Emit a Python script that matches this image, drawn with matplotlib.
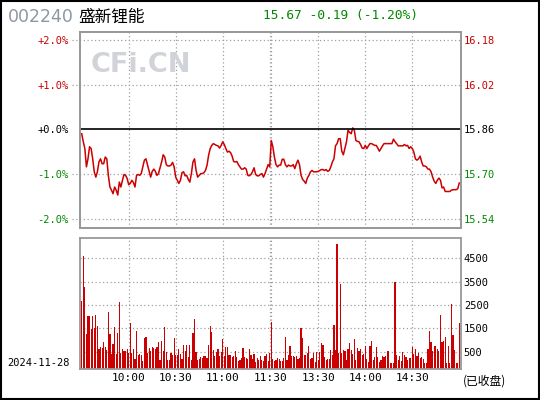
import matplotlib
matplotlib.use("Agg")
import matplotlib.pyplot as plt
from matplotlib.patches import Rectangle

# --- data ---
code = "002240"
name = "盛新锂能"
quote = "15.67 -0.19 (-1.20%)"
date = "2024-11-28"
prev_close = 15.86

# minute index: 0..120 = 9:30..11:30, 121..241 = 13:00..15:00
pct = [
    -0.10, -0.28, -0.43, -0.84, -0.66, -0.39, -0.43, -0.66, -0.95, -1.07,
    -0.95, -0.73, -0.66, -0.77, -0.77, -0.62, -0.66, -1.03, -1.29, -1.36,
    -1.44, -1.29, -1.36, -1.47, -1.18, -1.29, -1.14, -1.01, -1.03, -1.10,
    -1.24, -1.21, -1.14, -1.19, -1.29, -1.03, -1.01, -1.03, -0.99, -0.84,
    -0.69, -0.66, -0.80, -0.94, -1.07, -0.94, -0.89, -0.94, -1.03, -0.99,
    -0.86, -0.73, -0.57, -0.62, -0.79, -0.82, -0.82, -0.80, -0.74, -0.84,
    -1.07, -1.14, -1.21, -1.14, -0.97, -0.95, -1.04, -1.03, -1.12, -1.18,
    -0.99, -0.73, -0.66, -0.92, -1.07, -1.03, -0.99, -0.99, -0.97, -0.92,
    -0.80, -0.58, -0.43, -0.36, -0.32, -0.34, -0.36, -0.37, -0.42, -0.36,
    -0.28, -0.34, -0.43, -0.51, -0.49, -0.52, -0.60, -0.72, -0.73, -0.72,
    -0.79, -0.84, -0.89, -0.89, -0.86, -0.89, -1.03, -1.04, -1.01, -0.95,
    -0.86, -1.01, -1.04, -1.04, -1.01, -0.99, -1.07, -0.99, -0.89, -0.79,
    -0.84,
    -0.25, -0.39, -0.62, -0.79, -0.84, -0.80, -0.80, -0.67, -0.67, -0.79,
    -0.84, -0.80, -0.82, -0.82, -0.79, -0.88, -0.77, -0.69, -0.79, -1.03,
    -1.12, -1.16, -1.21, -1.09, -1.03, -0.95, -0.92, -0.95, -0.95, -0.95,
    -0.94, -0.92, -0.90, -0.90, -0.92, -0.90, -0.94, -0.92, -0.84, -0.73,
    -0.66, -0.37, -0.32, -0.21, -0.21, -0.49, -0.57, -0.42, -0.28, -0.02,
    -0.07, -0.10, 0.03, -0.02, -0.25, -0.27, -0.28, -0.34, -0.42, -0.43,
    -0.36, -0.43, -0.37, -0.32, -0.32, -0.34, -0.36, -0.36, -0.42, -0.49,
    -0.43, -0.37, -0.32, -0.32, -0.32, -0.32, -0.32, -0.32, -0.22, -0.28,
    -0.32, -0.37, -0.37, -0.37, -0.37, -0.34, -0.37, -0.36, -0.43, -0.39,
    -0.43, -0.51, -0.66, -0.69, -0.66, -0.60, -0.73, -0.82, -0.82, -0.84,
    -0.89, -0.89, -0.95, -1.07, -1.16, -1.21, -1.14, -1.09, -1.14, -1.31,
    -1.29, -1.39, -1.39, -1.39, -1.39, -1.36, -1.35, -1.35, -1.35, -1.33,
    -1.20,
]

volume = [
    2670, 4600, 3260, 1240, 2030, 2030, 1470, 2030, 1500, 2070,
    1600, 610, 690, 640, 900, 690, 570, 2200, 1240, 400,
    830, 1540, 400, 1300, 2630, 430, 610, 540, 540, 610,
    430, 1730, 440, 610, 190, 1390, 360, 400, 360, 100,
    1090, 1130, 440, 660, 530, 700, 660, 610, 700, 910,
    140, 960, 530, 1560, 490, 140, 140, 440, 360, 1090,
    360, 360, 610, 400, 190, 790, 530, 790, 270, 790,
    140, 1300, 1900, 490, 140, 190, 270, 230, 310, 310,
    230, 790, 1600, 1340, 570, 310, 490, 610, 310, 490,
    1040, 310, 700, 700, 360, 360, 270, 310, 530, 270,
    100, 140, 230, 660, 270, 230, 190, 610, 360, 190,
    400, 60, 230, 140, 310, 140, 100, 310, 400, 100,
    440,
    1770, 170, 110, 150, 210, 170, 100, 100, 210, 1130,
    140, 370, 740, 310, 330, 290, 300, 200, 250, 1510,
    1090, 360, 360, 440, 740, 190, 230, 440, 60, 490,
    140, 500, 870, 790, 290, 140, 200, 190, 570, 340,
    1640, 570, 5120, 440, 3400, 440, 570, 530, 140, 610,
    870, 570, 400, 1040, 140, 660, 530, 610, 360, 400,
    740, 200, 60, 740, 960, 140, 270, 700, 290, 60,
    140, 310, 270, 300, 530, 530, 0, 0, 0, 3490,
    360, 140, 330, 100, 490, 360, 260, 140, 230, 240,
    700, 400, 610, 310, 440, 230, 270, 170, 0, 0,
    610, 1390, 910, 530, 740, 740, 610, 530, 2070, 910,
    960, 1130, 0, 740, 0, 2540, 1210, 570, 0, 0,
    1730,
]

grid_minutes = [30, 60, 90, 120, 121, 151, 181, 211]
time_ticks = [30, 60, 90, 120.5, 151, 181, 211]
time_labels = ["10:00", "10:30", "11:00", "11:30", "13:30", "14:00", "14:30"]

pct_ticks = [2, 1, 0, -1, -2]
pct_labels = ["+2.0%", "+1.0%", "+0.0%", "-1.0%", "-2.0%"]
vol_ticks = [500, 1500, 2500, 3500, 4500]

RED = "#cc0000"
GREEN = "#008800"
GRID = "#a0a0a0"
MONO = "DejaVu Sans Mono"
CJK = ["Noto Sans CJK SC", "DejaVu Sans"]

minutes = list(range(len(pct)))
tick_colors = [RED, RED, "black", GREEN, GREEN]

fig = plt.figure(figsize=(5.4, 4.0), dpi=100)
fig.patch.set_facecolor("white")

# price panel
ax1 = fig.add_axes([80 / 540, 1 - 228 / 400, 381 / 540, 196 / 400])
ax1.plot(minutes, pct, color=RED, lw=1.1)
ax1.set_xlim(-1.1, 242.1)
ax1.set_ylim(-2.206, 2.174)
for p in pct_ticks:
    if p == 0:
        ax1.axhline(0, color="black", lw=1.2, zorder=3)
    else:
        ax1.axhline(p, xmin=-0.022, xmax=1, color=GRID, lw=0.9, ls=(0, (1, 2)),
                    clip_on=False, zorder=0)
for m in grid_minutes:
    ax1.axvline(m, color=GRID, lw=0.9, ls=(0, (1, 2)), zorder=0)
ax1.set_xticks([])
ax1.set_yticks(pct_ticks)
ax1.set_yticklabels(pct_labels, fontfamily=MONO, fontsize=7.5)
for lab, c in zip(ax1.get_yticklabels(), tick_colors):
    lab.set_color(c)
ax1.tick_params(axis="y", length=0, pad=8)

ax1r = ax1.twinx()
ax1r.set_ylim(ax1.get_ylim())
ax1r.set_yticks(pct_ticks)
ax1r.set_yticklabels([f"{prev_close * (1 + p / 100):.2f}" for p in pct_ticks],
                     fontfamily=MONO, fontsize=7.5)
for lab, c in zip(ax1r.get_yticklabels(), tick_colors):
    lab.set_color(c)
ax1r.tick_params(axis="y", length=0, pad=2)

for a in (ax1, ax1r):
    for s in a.spines.values():
        s.set_color("#999999")
        s.set_linewidth(1.3)

ax1.text(0.16, 0.83, "CFi.CN", transform=ax1.transAxes, fontsize=19.5,
         fontweight="bold", color="#d0d3d8", ha="center", va="center", zorder=0)

# volume panel
base = -254
ax2 = fig.add_axes([80 / 540, 1 - 369.3 / 400, 381 / 540, 131 / 400])
ax2.bar(minutes, [v - base for v in volume], bottom=base, width=0.75,
        color=RED, linewidth=0, zorder=2)
ax2.set_xlim(-1.1, 242.1)
ax2.set_ylim(base, 5360)
for v in vol_ticks:
    ax2.axhline(v, color=GRID, lw=0.9, ls=(0, (1, 2)), zorder=0)
for m in grid_minutes:
    ax2.axvline(m, color=GRID, lw=0.9, ls=(0, (1, 2)), zorder=0)
ax2.yaxis.tick_right()
ax2.set_yticks(vol_ticks)
ax2.set_yticklabels([str(v) for v in vol_ticks], fontfamily=MONO, fontsize=7.5)
ax2.tick_params(axis="y", length=0, pad=2)
ax2.set_xticks(time_ticks)
ax2.set_xticklabels(time_labels, fontfamily=MONO, fontsize=8)
ax2.tick_params(axis="x", length=0, pad=3)
for s in ax2.spines.values():
    s.set_color("#999999")
    s.set_linewidth(1.3)

# header and side texts
fig.text(8 / 540, 1 - 17 / 400, code, fontsize=12.5, color="#8e98a3",
         fontfamily="DejaVu Sans", va="center", ha="left")
fig.text(78 / 540, 1 - 17 / 400, name, fontsize=12, color="black",
         family=CJK, va="center", ha="left")
fig.text(263 / 540, 1 - 15 / 400, quote, fontsize=9.3, color=GREEN,
         fontfamily=MONO, va="center", ha="left")
fig.text(7 / 540, 1 - 363 / 400, date, fontsize=7.5, color="black",
         fontfamily=MONO, va="center", ha="left")
fig.text(463 / 540, 1 - 381 / 400, "(已收盘)", fontsize=8.5, color="black",
         family=CJK, va="center", ha="left")

# outer frame
fig.patches.append(Rectangle((0.001, 0.002), 0.997, 0.996, transform=fig.transFigure,
                             fill=False, edgecolor="black", lw=1.5))

fig.savefig("out.png", dpi=100)
